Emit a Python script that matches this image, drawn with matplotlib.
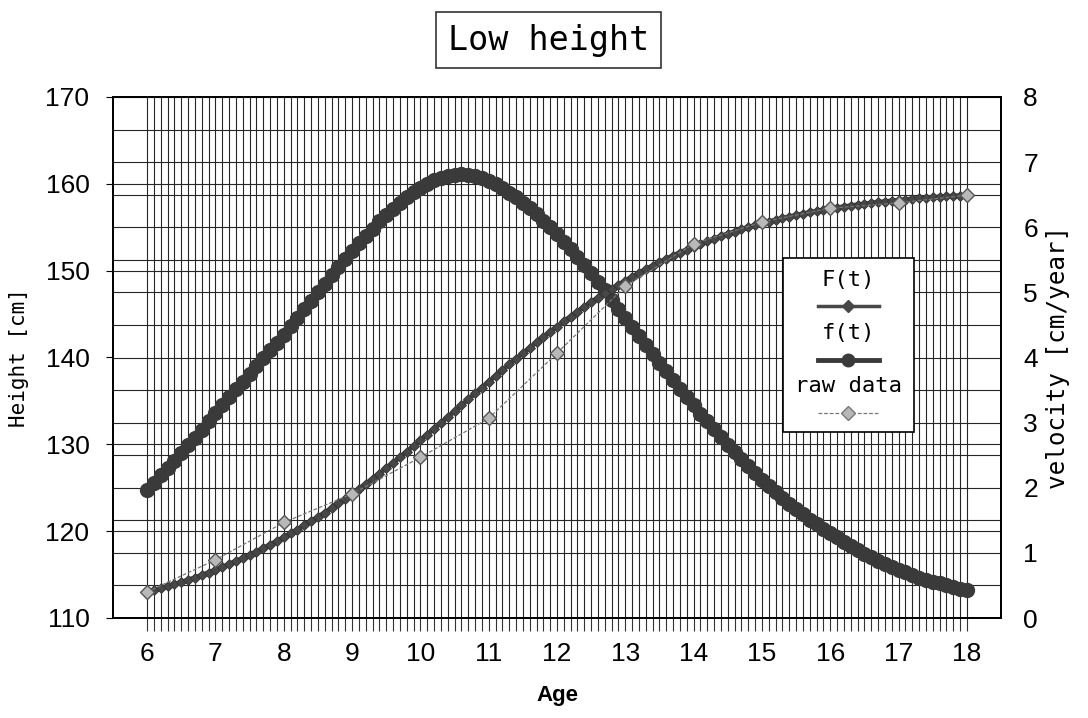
import numpy as np
import matplotlib
matplotlib.use("Agg")
import matplotlib.pyplot as plt
from matplotlib.ticker import FixedLocator
from matplotlib.offsetbox import AnchoredOffsetbox, VPacker, TextArea, DrawingArea
from matplotlib.lines import Line2D

# ages of the fitted curves, one point every 0.1 year
age = np.arange(60, 181) / 10

# F(t): fitted height [cm]
height_fit = [
    113.00, 113.20, 113.42, 113.64, 113.88, 114.12, 114.38, 114.65, 114.94, 115.23,
    115.54, 115.86, 116.19, 116.54, 116.90, 117.27, 117.65, 118.04, 118.45, 118.86,
    119.29, 119.74, 120.19, 120.66, 121.14, 121.63, 122.14, 122.66, 123.19, 123.74,
    124.30, 124.87, 125.45, 126.04, 126.64, 127.26, 127.88, 128.51, 129.16, 129.81,
    130.46, 131.13, 131.79, 132.47, 133.14, 133.82, 134.50, 135.18, 135.86, 136.54,
    137.21, 137.88, 138.54, 139.20, 139.85, 140.49, 141.12, 141.75, 142.36, 142.97,
    143.56, 144.15, 144.72, 145.28, 145.83, 146.36, 146.88, 147.39, 147.89, 148.37,
    148.84, 149.29, 149.73, 150.16, 150.57, 150.97, 151.36, 151.73, 152.09, 152.43,
    152.77, 153.09, 153.39, 153.69, 153.97, 154.25, 154.51, 154.76, 154.99, 155.22,
    155.44, 155.64, 155.84, 156.03, 156.21, 156.38, 156.54, 156.70, 156.85, 156.99,
    157.12, 157.25, 157.37, 157.48, 157.59, 157.69, 157.79, 157.88, 157.96, 158.04,
    158.12, 158.19, 158.26, 158.32, 158.38, 158.44, 158.50, 158.55, 158.60, 158.64,
    158.69,
]

# f(t): fitted velocity [cm/year]
velocity_fit = [
    1.97, 2.08, 2.19, 2.30, 2.41, 2.53, 2.65, 2.77, 2.89, 3.02,
    3.15, 3.27, 3.39, 3.51, 3.63, 3.75, 3.87, 3.99, 4.11, 4.23,
    4.35, 4.48, 4.61, 4.74, 4.87, 5.00, 5.13, 5.26, 5.39, 5.52,
    5.64, 5.76, 5.87, 5.98, 6.09, 6.19, 6.28, 6.37, 6.46, 6.54,
    6.61, 6.67, 6.72, 6.76, 6.79, 6.80, 6.81, 6.80, 6.78, 6.75,
    6.71, 6.66, 6.60, 6.53, 6.46, 6.38, 6.29, 6.20, 6.10, 6.00,
    5.90, 5.78, 5.66, 5.54, 5.42, 5.29, 5.16, 5.03, 4.89, 4.75,
    4.61, 4.47, 4.33, 4.19, 4.05, 3.92, 3.79, 3.65, 3.52, 3.39,
    3.27, 3.14, 3.02, 2.90, 2.78, 2.66, 2.55, 2.44, 2.33, 2.22,
    2.12, 2.02, 1.93, 1.84, 1.75, 1.67, 1.59, 1.51, 1.44, 1.37,
    1.30, 1.24, 1.17, 1.11, 1.05, 0.99, 0.94, 0.88, 0.83, 0.78,
    0.74, 0.70, 0.66, 0.62, 0.59, 0.56, 0.53, 0.50, 0.48, 0.45,
    0.43,
]

# measured heights
raw_age = [6, 7, 8, 9, 10, 11, 12, 13, 14, 15, 16, 17, 18]
raw_height = [113.0, 116.7, 121.0, 124.3, 128.5, 133.0, 140.5, 148.2, 153.1, 155.6, 157.2, 157.8, 158.7]

left_ticks = [110, 120, 130, 140, 150, 160, 170]
right_ticks = [0, 1, 2, 3, 4, 5, 6, 7, 8]
age_ticks = list(range(6, 19))

DARK = "#3a3a3a"
FCOL = "#474747"
RAWC = "#777777"
MONO = ["DejaVu Sans Mono"]
SANS = ["Liberation Sans", "DejaVu Sans"]

fig = plt.figure(figsize=(10.88, 7.18), dpi=100)
# back axes: velocity (right scale) + all grid lines
ax = fig.add_axes([113 / 1088, 100 / 718, 888 / 1088, 521 / 718])
# front axes: height (left scale)
axh = ax.twinx()

ax.set_xlim(5.5, 18.5)
ax.set_ylim(0, 8)
axh.set_ylim(110, 170)

ax.yaxis.tick_right()
ax.yaxis.set_label_position("right")
axh.yaxis.tick_left()
axh.yaxis.set_label_position("left")

ax.xaxis.set_major_locator(FixedLocator(age_ticks))
ax.xaxis.set_minor_locator(FixedLocator(age))
ax.yaxis.set_major_locator(FixedLocator(right_ticks))
# minor y gridlines: every 0.5 cm/year plus the height major ticks
ax.yaxis.set_minor_locator(FixedLocator(
    sorted(set(np.arange(0, 8.01, 0.5)) | {(v - 110) / 60 * 8 for v in left_ticks})))
ax.grid(True, which="both", axis="both", color="#262626", lw=0.8)
ax.set_axisbelow(True)
ax.tick_params(axis="y", which="both", length=0, pad=16, labelsize=19)
ax.tick_params(axis="x", which="both", direction="out", length=9, width=0.8, pad=8,
               labelsize=19, color="#333333")

ax.plot(age, velocity_fit, color=DARK, lw=6.5, marker="o", ms=10,
        mfc=DARK, mec=DARK, zorder=3)

axh.plot(age, height_fit, color=FCOL, lw=3.5, marker="D", ms=5.5,
         mfc=FCOL, mec="#333333", mew=0.6, zorder=3)
axh.plot(raw_age, raw_height, color=RAWC, lw=0.9, ls=(0, (3, 1.5)),
         marker="D", ms=7, mfc="#b8b8b8", mec="#555555", mew=1, zorder=4)

axh.yaxis.set_major_locator(FixedLocator(left_ticks))
axh.tick_params(axis="y", direction="out", length=5, width=0.8, pad=12, labelsize=19)

for t in ax.get_xticklabels() + ax.get_yticklabels() + axh.get_yticklabels():
    t.set_family(SANS)

for sp in list(ax.spines.values()) + list(axh.spines.values()):
    sp.set_linewidth(1.3)
    sp.set_color("black")

ax.set_xlabel("Age", fontsize=16, fontweight="bold", family=SANS, labelpad=14)
axh.set_ylabel("Height [cm]", fontsize=15, family=MONO, labelpad=12)
ax.set_ylabel("velocity [cm/year]", fontsize=17.5, family=MONO, labelpad=6)

fig.text(0.504, 0.944, "Low height", ha="center", va="center", fontsize=24,
         family=MONO, bbox=dict(boxstyle="square,pad=0.35", fc="white", ec="#333333", lw=1.2))


# legend: label text above each line sample
def sample(color, lw, marker, ms, mfc, ls="-"):
    da = DrawingArea(44, 10, 0, 0)
    da.add_artist(Line2D([0, 44], [5, 5], color=color, lw=lw, ls=ls))
    da.add_artist(Line2D([22], [5], marker=marker, ms=ms, color=color, mfc=mfc))
    return da


legend_rows = [
    TextArea("F(t)", textprops=dict(fontsize=16, family=MONO)),
    sample(FCOL, 2.5, "D", 6, FCOL),
    TextArea("f(t)", textprops=dict(fontsize=16, family=MONO)),
    sample(DARK, 3.5, "o", 9, DARK),
    TextArea("raw data", textprops=dict(fontsize=16, family=MONO)),
    sample(RAWC, 0.9, "D", 7, "#b8b8b8", ls=(0, (3, 1.5))),
]
box = AnchoredOffsetbox(loc="upper left", child=VPacker(children=legend_rows, align="center", pad=0, sep=7),
                        bbox_to_anchor=(0.7545, 0.691), bbox_transform=ax.transAxes,
                        frameon=True, pad=0.85, borderpad=0)
box.patch.set_edgecolor("black")
box.patch.set_linewidth(1.2)
box.patch.set_boxstyle("square,pad=0")
axh.add_artist(box)

fig.savefig("out.png", dpi=100)
